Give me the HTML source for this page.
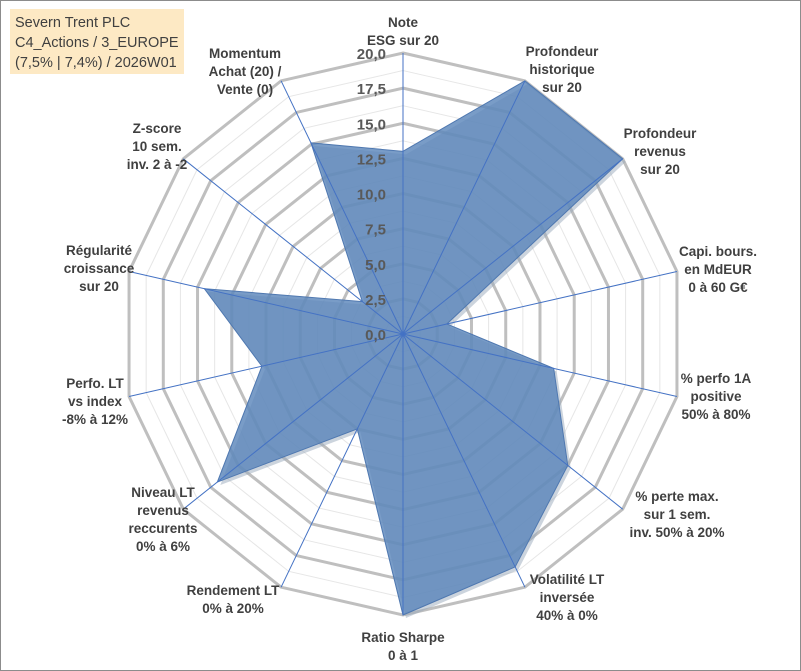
<!DOCTYPE html>
<html><head><meta charset="utf-8"><style>
body{margin:0;background:#fff}
#c{position:relative;width:801px;height:671px;overflow:hidden}
svg{position:absolute;left:0;top:0}
</style></head><body>
<div id="c">
<svg id="s" width="801" height="671">
<rect x="0.5" y="0.5" width="800" height="670" fill="#fff" stroke="#8c8c8c"/>
<rect x="10" y="9" width="174" height="65" fill="#fde9c4"/>
<text font-family="Liberation Sans Narrow, Liberation Sans, sans-serif" font-size="14.5" fill="#404040">
<tspan x="15" y="27">Severn Trent PLC</tspan><tspan x="15" y="47">C4_Actions / 3_EUROPE</tspan><tspan x="15" y="67">(7,5% | 7,4%) / 2026W01</tspan></text>
<g id="grid"></g><g id="area"></g><g id="axes"></g><g id="ticks"></g><g id="labels"></g>
</svg></div>
<script>
const categories=[["Note","ESG sur 20"],["Profondeur","historique","sur 20"],["Profondeur","revenus","sur 20"],["Capi. bours.","en MdEUR","0 à 60 G€"],["% perfo 1A","positive","50% à 80%"],["% perte max.","sur 1 sem.","inv. 50% à 20%"],["Volatilité LT","inversée","40% à 0%"],["Ratio Sharpe","0 à 1"],["Rendement LT","0% à 20%"],["Niveau LT","revenus","reccurents","0% à 6%"],["Perfo. LT","vs index","-8% à 12%"],["Régularité","croissance","sur 20"],["Z-score","10 sem.","inv. 2 à -2"],["Momentum","Achat (20) /","Vente (0)"]];
const values=[13,20,20,3.2,11,15,18.4,20,7.5,16.9,10.3,14.5,3.7,15.1];
const tickLabels=["0,0","2,5","5,0","7,5","10,0","12,5","15,0","17,5","20,0"];
const maxV=20;
const labelPos=[[403,31],[562,69],[660,151],[718,269],[716,396],[677,514],[567,597],[403,646],[233,599],[163,519],[95,401],[99,268],[157,146],[245,71]];
const NS="http://www.w3.org/2000/svg";
const cx=403,cy=334,R=281,N=categories.length;
function ang(i){return i*2*Math.PI/N;}
function pt(i,v){const r=v/maxV*R;return [cx+r*Math.sin(ang(i)),cy-r*Math.cos(ang(i))];}
function mk(t,a,p){const e=document.createElementNS(NS,t);for(const k in a)e.setAttribute(k,a[k]);p.appendChild(e);return e;}
const grid=document.getElementById('grid');
for(let k=1;k<=16;k++){const v=k*1.25;const ps=[];for(let i=0;i<N;i++)ps.push(pt(i,v).join(','));
const e=mk('polygon',{points:ps.join(' '),fill:'none',stroke:k%2?'#e6e6e6':'#bfbfbf','stroke-width':k%2?1:3},grid);

}
const area=document.getElementById('area');
const aps=values.map((v,i)=>pt(i,v).join(',')).join(' ');
const sh=mk('polygon',{points:aps,fill:'#9aa9bb',transform:'translate(3,3)',opacity:0.5},area);


const poly=mk('polygon',{points:aps,fill:'#5b86bb','fill-opacity':0.82,stroke:'#4f78b0','stroke-width':1},area);


const axes=document.getElementById('axes');
for(let i=0;i<N;i++){const p=pt(i,maxV);const l=mk('line',{x1:cx,y1:cy,x2:p[0],y2:p[1],stroke:'#4472c4','stroke-width':1},axes);

}
const ticks=document.getElementById('ticks');
tickLabels.forEach((t,k)=>{const y=cy-(k*2.5)/maxV*R;const e=mk('text',{x:386,y:y+6,'text-anchor':'end','font-family':'Liberation Sans, sans-serif','font-size':15,'font-weight':'bold',fill:'#595959'},ticks);e.textContent=t;

});
const labels=document.getElementById('labels');
categories.forEach((lines,i)=>{const x=labelPos[i][0],y=labelPos[i][1];
const lh=18;const y0=y-(lines.length-1)*lh/2+5;
const t=mk('text',{x:x,y:y0,'text-anchor':'middle','font-family':'Liberation Sans, sans-serif','font-size':13.5,'font-weight':'bold',fill:'#404040'},labels);


lines.forEach((ln,j)=>{const ts=mk('tspan',{x:x,y:y0+j*lh},t);ts.textContent=ln;});});
</script>
</body></html>
